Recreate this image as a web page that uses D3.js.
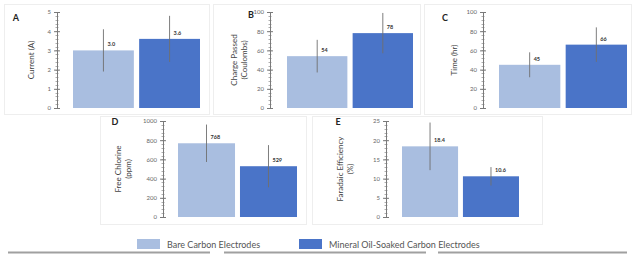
<!DOCTYPE html>
<html><head><meta charset="utf-8">
<script src="https://cdn.jsdelivr.net/npm/d3@7"></script>
<style>html,body{margin:0;padding:0;background:#fff;}svg{display:block;}</style>
</head><body>
<svg id="chart" width="634" height="254"></svg>
<script>
const seriesNames = ["Bare Carbon Electrodes", "Mineral Oil-Soaked Carbon Electrodes"];
const seriesColors = ["#a9bee0", "#4a74c8"];

const currentVals = [3.0, 3.6];
const currentErr = [1.1, 1.2];
const currentLabels = ["3.0", "3.6"];
const currentTicks = [0, 1, 2, 3, 4, 5];

const chargeVals = [54, 78];
const chargeErr = [17, 21];
const chargeLabels = ["54", "78"];
const chargeTicks = [0, 20, 40, 60, 80, 100];

const timeVals = [45, 66];
const timeErr = [13, 18];
const timeLabels = ["45", "66"];
const timeTicks = [0, 20, 40, 60, 80, 100];

const chlorineVals = [768, 529];
const chlorineErr = [195, 220];
const chlorineLabels = ["768", "529"];
const chlorineTicks = [0, 200, 400, 600, 800, 1000];

const faradaicVals = [18.4, 10.6];
const faradaicErr = [6.2, 2.4];
const faradaicLabels = ["18.4", "10.6"];
const faradaicTicks = [0, 5, 10, 15, 20, 25];

const svg = d3.select("#chart");
const FONT = "Lato, 'Open Sans', sans-serif";

// decorative source-page lines at the bottom
const bottomSegs = [[8, 210], [224, 426], [438, 627]];
svg.selectAll("line.bseg").data(bottomSegs).join("line")
  .attr("x1", d => d[0]).attr("x2", d => d[1])
  .attr("y1", 252.5).attr("y2", 252.5)
  .attr("stroke", "#a0a0a0").attr("stroke-width", 2);

const panels = [
  {letter: "A", title: ["Current (A)"], vals: currentVals, err: currentErr, labels: currentLabels, ticks: currentTicks,
   box: [4, 4, 209, 114], axisX: 57, yTop: 12, yBot: 108, bx: [73, 200], titleX: 32, letterX: 16, letterY: 21},
  {letter: "B", title: ["Charge Passed", "(Coulombs)"], vals: chargeVals, err: chargeErr, labels: chargeLabels, ticks: chargeTicks,
   box: [213, 4, 420, 114], axisX: 270, yTop: 12, yBot: 108, bx: [287, 413], titleX: 240, letterX: 251, letterY: 18},
  {letter: "C", title: ["Time (hr)"], vals: timeVals, err: timeErr, labels: timeLabels, ticks: timeTicks,
   box: [424, 4, 631, 114], axisX: 483, yTop: 12, yBot: 108, bx: [499, 627], titleX: 455, letterX: 445, letterY: 21},
  {letter: "D", title: ["Free Chlorine", "(ppm)"], vals: chlorineVals, err: chlorineErr, labels: chlorineLabels, ticks: chlorineTicks,
   box: [100, 116, 306, 224], axisX: 163, yTop: 121, yBot: 217, bx: [178, 297], titleX: 124, letterX: 115, letterY: 125},
  {letter: "E", title: ["Faradaic Efficiency", "(%)"], vals: faradaicVals, err: faradaicErr, labels: faradaicLabels, ticks: faradaicTicks,
   box: [312, 116, 542, 224], axisX: 386, yTop: 121, yBot: 217, bx: [402, 519], titleX: 346, letterX: 338, letterY: 125}
];

panels.forEach(p => {
  const g = svg.append("g");
  g.append("rect").attr("x", p.box[0] + 0.5).attr("y", p.box[1] + 0.5)
    .attr("width", p.box[2] - p.box[0]).attr("height", p.box[3] - p.box[1])
    .attr("fill", "none").attr("stroke", "#eeeeee");

  const y = d3.scaleLinear().domain([p.ticks[0], p.ticks[p.ticks.length - 1]]).range([p.yBot, p.yTop]);
  const x = d3.scaleBand().domain([0, 1]).range(p.bx).paddingInner(0.08);

  // minor ticks
  const step = p.ticks[1] - p.ticks[0];
  const minor = d3.range(p.ticks[0], p.ticks[p.ticks.length - 1] + step / 10, step / 5);
  g.selectAll("line.minor").data(minor).join("line")
    .attr("x1", p.axisX - 1.5).attr("x2", p.axisX + 1.5)
    .attr("y1", d => Math.round(y(d)) + 0.5).attr("y2", d => Math.round(y(d)) + 0.5)
    .attr("stroke", "#9a9a9a").attr("stroke-width", 0.8);

  const axis = d3.axisLeft(y).tickValues(p.ticks).tickFormat(d3.format("d"))
    .tickSize(3).tickSizeOuter(0).tickPadding(3);
  const ax = g.append("g").attr("transform", `translate(${p.axisX},0)`).call(axis);
  ax.select(".domain").attr("stroke", "#7a7a7a");
  ax.selectAll(".tick line").attr("stroke", "#7a7a7a").attr("x1", 3);
  ax.selectAll(".tick text").attr("font-family", FONT).attr("font-size", 6).attr("fill", "#666");

  // bars
  g.selectAll("rect.bar").data(p.vals).join("rect")
    .attr("x", (d, i) => x(i)).attr("width", x.bandwidth())
    .attr("y", d => y(d)).attr("height", d => y(0) - y(d))
    .attr("fill", (d, i) => seriesColors[i]);

  // error bars
  g.selectAll("line.err").data(p.vals).join("line")
    .attr("x1", (d, i) => x(i) + x.bandwidth() / 2).attr("x2", (d, i) => x(i) + x.bandwidth() / 2)
    .attr("y1", (d, i) => y(d + p.err[i])).attr("y2", (d, i) => y(d - p.err[i]))
    .attr("stroke", "#6f6f6f").attr("stroke-width", 0.9);

  // value labels
  g.selectAll("text.val").data(p.vals).join("text")
    .attr("x", (d, i) => x(i) + x.bandwidth() / 2 + 4).attr("y", d => y(d) - 4)
    .attr("font-family", FONT).attr("font-size", 5.5).attr("font-weight", "bold").attr("fill", "#333")
    .text((d, i) => p.labels[i]);

  // axis title
  const cy = (p.yTop + p.yBot) / 2;
  const n = p.title.length;
  p.title.forEach((t, k) => {
    const tx = p.titleX + (k - (n - 1) / 2) * 10;
    g.append("text").attr("transform", `translate(${tx},${cy}) rotate(-90)`)
      .attr("text-anchor", "middle").attr("dominant-baseline", "middle")
      .attr("font-family", FONT).attr("font-size", 8).attr("fill", "#444").text(t);
  });

  // panel letter
  g.append("text").attr("x", p.letterX).attr("y", p.letterY)
    .attr("text-anchor", "middle").attr("font-family", FONT).attr("font-weight", "bold")
    .attr("font-size", 9).attr("fill", "#222").text(p.letter);
});

// legend
const legendX = [137, 299];
const lg = svg.append("g");
seriesNames.forEach((name, i) => {
  lg.append("rect").attr("x", legendX[i]).attr("y", 239).attr("width", 23).attr("height", 10).attr("fill", seriesColors[i]);
  lg.append("text").attr("x", legendX[i] + 30).attr("y", 247.5)
    .attr("font-family", FONT).attr("font-size", 9).attr("fill", "#555").text(name);
});
</script>
</body></html>
